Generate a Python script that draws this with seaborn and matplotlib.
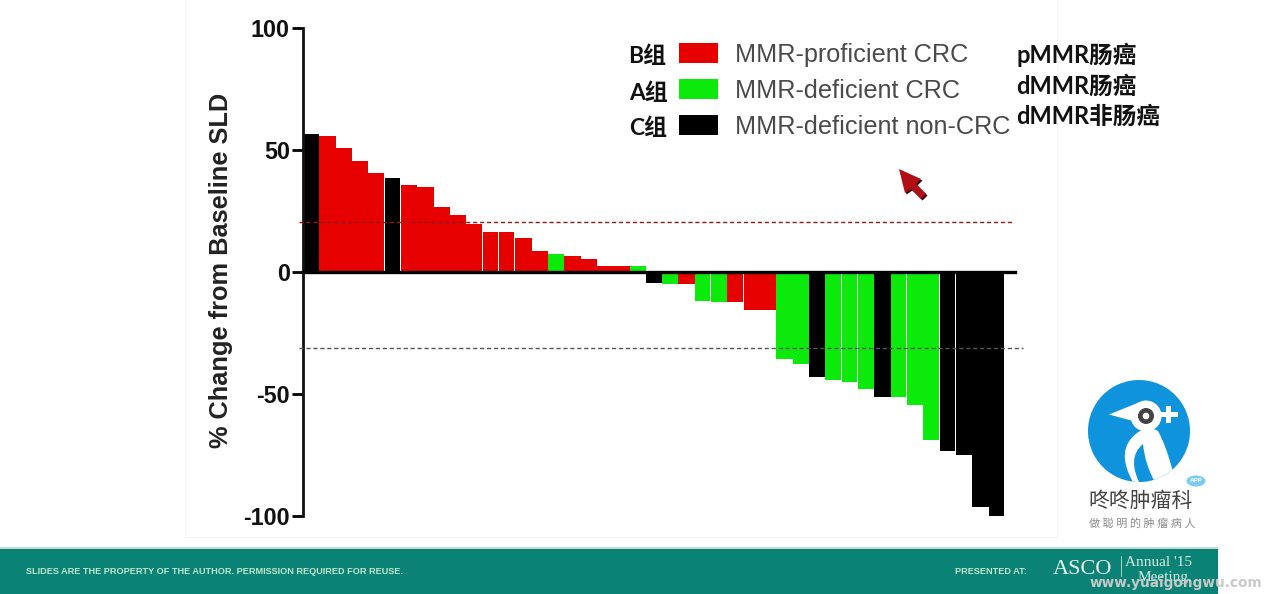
import matplotlib
matplotlib.use("Agg")
import matplotlib.pyplot as plt
import seaborn as sns
import pandas as pd
from matplotlib.patches import Rectangle, Circle, Polygon, Ellipse, PathPatch
from matplotlib.path import Path

# ---------- data ----------
values = [56.5, 55.9, 50.7, 45.6, 40.7, 38.7, 35.5, 34.7, 26.5, 23.4, 19.8, 16.4, 16.4, 14.0, 8.6,
          7.5, 6.7, 5.5, 2.3, 2.3, 2.3, -4.5, -5.0, -5.0, -12.0, -12.4, -12.4, -15.5, -15.5,
          -35.5, -37.8, -42.9, -44.4, -45.2, -48.0, -51.4, -51.4, -54.5, -69.0, -73.4, -74.8, -96.4, -99.9]
group_codes = list("KRRRRKRRRRRRRRRGRRRRGKGRGGRRRGGKGGGKGGGKKKK")
group_names = {"R": "MMR-proficient CRC", "G": "MMR-deficient CRC", "K": "MMR-deficient non-CRC"}
hue_order = ["MMR-proficient CRC", "MMR-deficient CRC", "MMR-deficient non-CRC"]
palette = ["#E60000", "#0BEA0B", "#000000"]
y_ticks = [-100, -50, 0, 50, 100]
y_label = "% Change from Baseline SLD"
threshold_up = 20.5
threshold_down = -31
separated_bars = [3, 4, 5, 9, 10, 11, 12, 24, 25, 26, 31, 32, 33, 36, 37, 38, 39, 42]
left_notes = ["B组", "A组", "C组"]
right_notes = ["pMMR肠癌", "dMMR肠癌", "dMMR非肠癌"]
footer_left = "SLIDES ARE THE PROPERTY OF THE AUTHOR. PERMISSION REQUIRED FOR REUSE."
footer_right = "PRESENTED AT:"

W, H = 1269, 594
sns.set_theme(style="white")
plt.rcParams["font.family"] = ["Liberation Sans", "Noto Sans CJK SC", "DejaVu Sans"]
plt.rcParams["axes.unicode_minus"] = False

fig = plt.figure(figsize=(W / 100, H / 100), dpi=100, facecolor="white")

# ---------- pixel overlay underneath the chart ----------
bg = fig.add_axes([0, 0, 1, 1], zorder=0)
bg.set_xlim(0, W); bg.set_ylim(H, 0); bg.axis("off")
bg.add_patch(Rectangle((185, -5), 872, 542, fc="white", ec="#F3F3F3", lw=0.8))
bg.add_patch(Rectangle((0, 548), 1218, 46, fc="#0A8275", ec="none"))
bg.add_patch(Rectangle((0, 547), 1218, 1.6, fc="#BFDDD8", ec="none"))

# ---------- chart ----------
left, right, top, bottom = 303, 1015, 28, 516
ax = fig.add_axes([left / W, 1 - bottom / H, (right - left) / W, (bottom - top) / H], zorder=2)
ax.patch.set_alpha(0)
df = pd.DataFrame({"patient": range(len(values)), "change": values,
                   "group": [group_names[c] for c in group_codes]})
sns.barplot(data=df, x="patient", y="change", hue="group", hue_order=hue_order, palette=palette,
            dodge=False, width=1.0, saturation=1, linewidth=0, ax=ax, native_scale=True)
for bar in ax.patches:
    idx = round(bar.get_x() + bar.get_width() / 2)
    if idx in separated_bars:
        bar.set_width(bar.get_width() - 0.045)

ax.set_xlim(-0.5, (right - left) / ((1005 - 303) / len(values)) - 0.5)
ax.set_ylim(-100, 100)
ax.set_yticks(y_ticks)
ax.set_xticks([])
ax.set_xlabel("")
ax.set_ylabel(y_label, fontsize=18.3, fontweight="bold", color="#222222", labelpad=0)
ax.yaxis.set_label_coords((233 - left) / (right - left), 0.5 + 1.5 / 488)
ax.tick_params(axis="y", length=8, width=2, color="black", left=True, pad=1.5)
for t in ax.get_yticklabels():
    t.set_fontsize(16.8); t.set_fontweight("bold"); t.set_color("#111111")
for s in ["top", "right"]:
    ax.spines[s].set_visible(False)
ax.spines["left"].set_linewidth(2); ax.spines["left"].set_color("#111111")
ax.spines["bottom"].set_position(("data", 0))
ax.spines["bottom"].set_linewidth(2.4); ax.spines["bottom"].set_color("black")
ax.spines["bottom"].set_zorder(6)

ax.plot([-0.75, 43.0], [threshold_up] * 2, color="#8E1B1B", lw=1.0, ls=(0, (3, 2)), clip_on=False, zorder=5)
ax.plot([-0.75, 43.6], [threshold_down] * 2, color="#555555", lw=1.0, ls=(0, (3, 2)), clip_on=False, zorder=5)

leg = ax.legend(loc="upper left", bbox_to_anchor=(669 / W, 1 - 33 / H), bbox_transform=fig.transFigure,
                frameon=False, fontsize=18.2, handlelength=1.54, handleheight=0.85, handletextpad=0.67,
                labelspacing=0.47, borderpad=0.4, borderaxespad=0)
for t in leg.get_texts():
    t.set_color("#4A4A4A")

# ---------- pixel overlay above the chart ----------
ov = fig.add_axes([0, 0, 1, 1], zorder=3)
ov.set_xlim(0, W); ov.set_ylim(H, 0); ov.axis("off"); ov.patch.set_alpha(0)

for s, x, y in zip(left_notes, [628, 629, 629], [56, 93, 128]):
    ov.text(x, y, s, fontsize=16.5, fontweight="bold", va="center", ha="left", color="#111111",
            family=["Lato", "Noto Sans CJK SC"])
for s, y in zip(right_notes, [55, 86, 116]):
    ov.text(1016, y, s, fontsize=17, fontweight="bold", va="center", ha="left", color="#111111",
            family=["Lato", "Noto Sans CJK SC"])

# cursor arrow
arrow = [(899, 169), (921, 179), (916, 184), (926, 194), (921, 199), (911, 189), (905, 193)]
ov.add_patch(Polygon([(x + 1.5, y + 1.5) for x, y in arrow], closed=True, fc="#3A0505", ec="none"))
ov.add_patch(Polygon(arrow, closed=True, fc="#B01015", ec="none"))

# logo
blue = "#0F93DD"
disc = Circle((1139, 431), 51, fc=blue, ec="none")
ov.add_patch(disc)
C3, L, M = Path.CURVE3, Path.LINETO, Path.MOVETO
body = Path([(1134, 484), (1114, 450), (1137, 433), (1148, 425), (1158, 431), (1166, 445), (1173, 472), (1160, 490), (1134, 484)],
            [M, C3, C3, C3, C3, C3, C3, L, Path.CLOSEPOLY])
b = PathPatch(body, fc="white", ec="none"); ov.add_patch(b); b.set_clip_path(disc)
wing = Path([(1141, 486), (1126, 458), (1143, 444), (1145, 465), (1155, 482), (1150, 490), (1141, 486)],
            [M, C3, C3, C3, C3, L, Path.CLOSEPOLY])
w = PathPatch(wing, fc=blue, ec="none"); ov.add_patch(w); w.set_clip_path(disc)
pieces = [
    Circle((1146, 416), 15.5, fc="white", ec="none"),
    Polygon([(1109, 414.5), (1140, 402), (1146, 425), (1133, 421)], closed=True, fc="white", ec="none"),
    Rectangle((1160, 412), 18, 5, fc="white", ec="none"),
    Rectangle((1166, 406), 5, 17, fc="white", ec="none"),
    Circle((1146, 416), 8, fc="#444444", ec="none"),
    Circle((1146, 416), 3.3, fc="white", ec="none"),
]
for p in pieces:
    ov.add_patch(p)
ov.add_patch(Ellipse((1196, 481), 19, 11, fc="#7CCBF2", ec="none"))
ov.text(1196, 481, "APP", fontsize=4.5, color="white", ha="center", va="center", fontweight="bold")
ov.text(1141, 501, "咚咚肿瘤科", fontsize=15, color="#444444", ha="center", va="center",
        family=["Noto Sans CJK SC"])
ov.text(1142, 523, "做 聪 明 的 肿 瘤 病 人", fontsize=8, color="#8C8C8C", ha="center", va="center",
        family=["Noto Sans CJK SC"])

# footer
ov.text(26, 572, footer_left, fontsize=6.6, color="#BFE8CC", ha="left", va="center", fontweight="bold")
ov.text(955, 572, footer_right, fontsize=6.6, color="#BFE8CC", ha="left", va="center", fontweight="bold")
ov.text(1053, 570, "ASCO", fontsize=16, color="#E8F5EE", ha="left", va="center", family=["Liberation Serif"])
ov.plot([1121, 1121], [556, 576], color="#BFE8CC", lw=0.6)
ov.text(1125, 563, "Annual '15", fontsize=11, color="#D6EFE2", ha="left", va="center", family=["Liberation Serif"])
ov.text(1138, 578, "Meeting", fontsize=11, color="#D6EFE2", ha="left", va="center", family=["Liberation Serif"])
ov.text(1090, 583, "www.yuaigongwu.com", fontsize=9.8, color="#C9C9C9", ha="left", va="center", fontweight="bold",
        family=["DejaVu Sans"])

fig.savefig("out.png", dpi=100, facecolor="white")
